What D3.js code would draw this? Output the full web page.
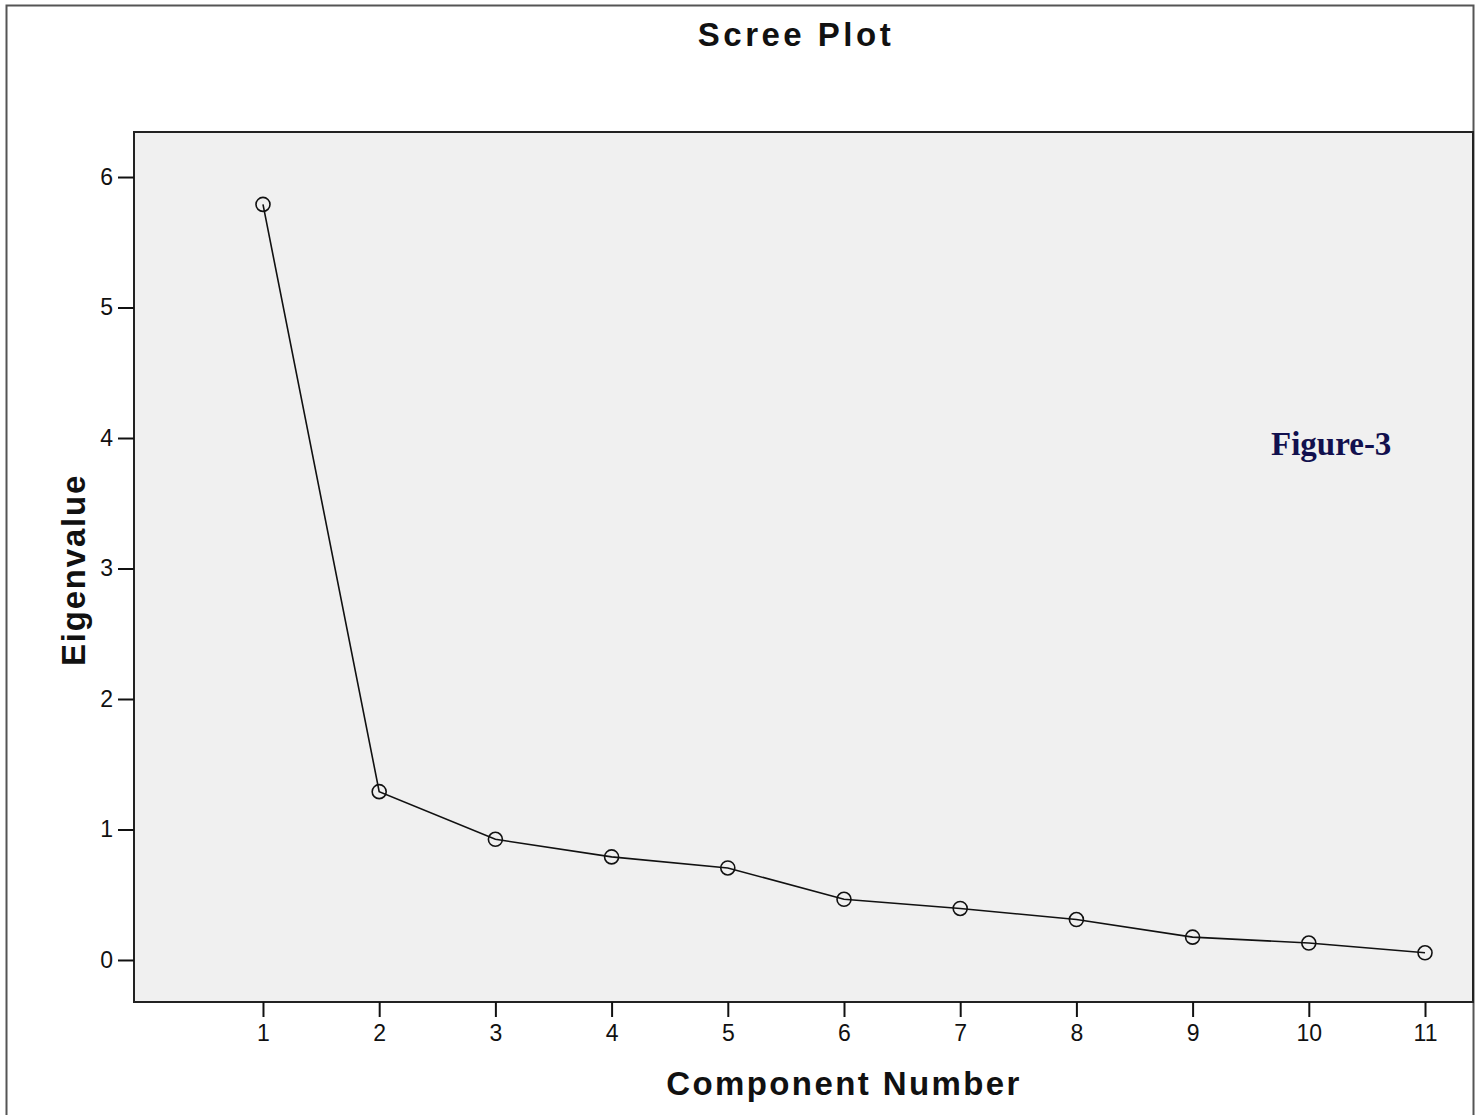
<!DOCTYPE html>
<html><head><meta charset="utf-8">
<script src="https://cdn.jsdelivr.net/npm/d3@7"></script>
<style>body{margin:0;background:#fff}svg{display:block}</style>
</head><body>
<svg id="c" width="1479" height="1115"></svg>
<script>
const components = [1,2,3,4,5,6,7,8,9,10,11];
const eigenvalues = [5.79,1.29,0.925,0.79,0.705,0.465,0.395,0.31,0.175,0.13,0.055];
const yTicks = [0,1,2,3,4,5,6];
const title = "Scree Plot";
const xTitle = "Component Number";
const yTitle = "Eigenvalue";
const note = "Figure-3";

const svg = d3.select("#c");
const L=134, T=132, R=1473, B=1002;
const x = d3.scaleLinear().domain([-0.11,11.413]).range([L,R]);
const y = d3.scaleLinear().domain([-0.322,6.345]).range([B,T]);

svg.append("rect").attr("x",6.5).attr("y",5.5).attr("width",1467).attr("height",1120)
  .attr("fill","#fff").attr("stroke","#555").attr("stroke-width",2);
svg.append("rect").attr("x",L).attr("y",T).attr("width",R-L).attr("height",B-T)
  .attr("fill","#f0f0f0").attr("stroke","#222").attr("stroke-width",2);

const font = "Liberation Sans, Arial, sans-serif";
const yAxis = svg.append("g").attr("transform",`translate(${L},0)`)
  .call(d3.axisLeft(y).tickValues(yTicks).tickSize(16).tickPadding(5).tickFormat(d3.format("d")));
const xAxis = svg.append("g").attr("transform",`translate(0,${B})`)
  .call(d3.axisBottom(x).tickValues(components).tickSize(15).tickPadding(8).tickFormat(d3.format("d")));
[yAxis,xAxis].forEach(a=>{
  a.attr("font-size",null).attr("font-family",null);
  a.select(".domain").remove();
  a.selectAll(".tick line").attr("stroke","#111").attr("stroke-width",2);
  a.selectAll(".tick text").style("font-family",font).style("font-size","23px").attr("fill","#111");
});

const line = d3.line().x((d,i)=>x(components[i])).y(d=>y(d));
svg.append("path").datum(eigenvalues).attr("d",line).attr("fill","none")
  .attr("stroke","#111").attr("stroke-width",1.6);
svg.selectAll("circle.pt").data(eigenvalues).join("circle").attr("class","pt")
  .attr("cx",(d,i)=>x(components[i])).attr("cy",d=>y(d)).attr("r",7)
  .attr("fill","none").attr("stroke","#111").attr("stroke-width",1.6);

svg.append("text").attr("x",796).attr("y",46).attr("text-anchor","middle")
  .attr("font-family",font).attr("font-weight","bold").attr("font-size",33)
  .attr("letter-spacing",3.5).attr("fill","#111").text(title);
svg.append("text").attr("x",844).attr("y",1095).attr("text-anchor","middle")
  .attr("font-family",font).attr("font-weight","bold").attr("font-size",33)
  .attr("letter-spacing",2.4).attr("fill","#111").text(xTitle);
svg.append("text").attr("transform","translate(85,570) rotate(-90)").attr("text-anchor","middle")
  .attr("font-family",font).attr("font-weight","bold").attr("font-size",33)
  .attr("letter-spacing",1.8).attr("fill","#111").text(yTitle);
svg.append("text").attr("x",1271).attr("y",455)
  .attr("font-family","Liberation Serif, serif").attr("font-weight","bold").attr("font-size",33)
  .attr("fill","#12104e").text(note);
</script>
</body></html>
